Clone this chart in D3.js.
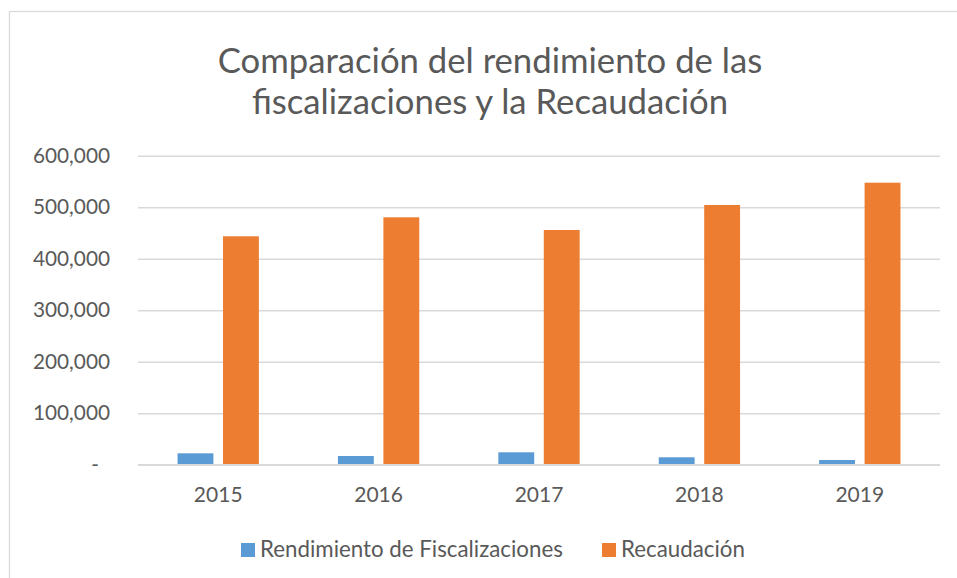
<!DOCTYPE html>
<html>
<head>
<meta charset="utf-8">
<script src="https://cdn.jsdelivr.net/npm/d3@7"></script>
<style>
  html, body { margin: 0; padding: 0; background: #ffffff; }
  svg { display: block; }
  text { font-family: Lato, "Open Sans", sans-serif; fill: #595959; }
</style>
</head>
<body>
<svg id="chart" width="957" height="578"></svg>
<script>
const years = ["2015", "2016", "2017", "2018", "2019"];
const seriesNames = ["Rendimiento de Fiscalizaciones", "Recaudación"];
const rendimiento = [22100, 16900, 24100, 14400, 9100];
const recaudacion = [443500, 480400, 455700, 504300, 547600];
const yTicks = [0, 100000, 200000, 300000, 400000, 500000, 600000];
const yTickLabels = ["-", "100,000", "200,000", "300,000", "400,000", "500,000", "600,000"];
const titleLines = ["Comparación del rendimiento de las", "fiscalizaciones y la Recaudación"];
const colors = ["#5B9BD5", "#ED7D31"];

const svg = d3.select("#chart");
const W = 957, H = 578;
const m = { left: 138, right: 940, top: 155.7, bottom: 464.7 };

// outer chart border
svg.append("rect")
  .attr("x", 9.5).attr("y", 11.5)
  .attr("width", W + 20).attr("height", H + 20)
  .attr("fill", "#fff").attr("stroke", "#d9d9d9").attr("stroke-width", 1.3);

// title
const title = svg.append("text")
  .attr("text-anchor", "middle")
  .style("font-size", "34.7px");
titleLines.forEach((t, i) => {
  title.append("tspan").attr("x", 490).attr("y", 73 + i * 41).text(t);
});

const x0 = d3.scaleBand().domain(years).range([m.left, m.right]).paddingInner(0.493).paddingOuter(0.2465);
const x1 = d3.scaleBand().domain(seriesNames).range([0, x0.bandwidth()]).paddingInner(0.211);
const y = d3.scaleLinear().domain([0, 600000]).range([m.bottom, m.top]);

// gridlines
const grid = d3.axisLeft(y).tickValues(yTicks).tickSize(-(m.right - m.left)).tickFormat("");
svg.append("g").attr("transform", `translate(${m.left},0)`).call(grid)
  .call(g => g.select(".domain").remove())
  .call(g => g.selectAll("line").attr("stroke", "#d9d9d9").attr("stroke-width", 1.5));

// y axis labels
const yAxis = d3.axisLeft(y).tickValues(yTicks).tickSize(0).tickPadding(28)
  .tickFormat((d, i) => yTickLabels[i]);
svg.append("g").attr("transform", `translate(${m.left},0)`).call(yAxis)
  .call(g => g.select(".domain").remove())
  .call(g => g.selectAll("text").style("font-size", "20.8px").attr("fill", "#595959")
    .attr("font-family", null)
    .attr("dx", (d) => d === 0 ? "-11" : "0"));

// bars
const data = years.map((yr, i) => ({ year: yr, values: [rendimiento[i], recaudacion[i]] }));
const groups = svg.append("g").selectAll("g").data(data).join("g")
  .attr("transform", d => `translate(${x0(d.year)},0)`);
groups.selectAll("rect").data(d => d.values.map((v, j) => ({ name: seriesNames[j], v, j })))
  .join("rect")
  .attr("x", d => x1(d.name))
  .attr("width", x1.bandwidth())
  .attr("y", d => y(d.v))
  .attr("height", d => y(0) - y(d.v))
  .attr("fill", d => colors[d.j]);

// x axis baseline
svg.append("line").attr("x1", m.left).attr("x2", m.right)
  .attr("y1", y(0)).attr("y2", y(0)).attr("stroke", "#d9d9d9").attr("stroke-width", 1.5);

// x axis labels
const xAxis = d3.axisBottom(x0).tickSize(0).tickPadding(22);
svg.append("g").attr("transform", `translate(0,${m.bottom})`).call(xAxis)
  .call(g => g.select(".domain").remove())
  .call(g => g.selectAll("text").style("font-size", "21px").attr("fill", "#595959").attr("font-family", null));

// legend
const legendX = [241, 602];
const legend = svg.append("g");
seriesNames.forEach((n, i) => {
  legend.append("rect").attr("x", legendX[i]).attr("y", 543).attr("width", 14).attr("height", 14).attr("fill", colors[i]);
  legend.append("text").attr("x", legendX[i] + 19).attr("y", 557).style("font-size", "22.3px").text(n);
});
</script>
</body>
</html>
